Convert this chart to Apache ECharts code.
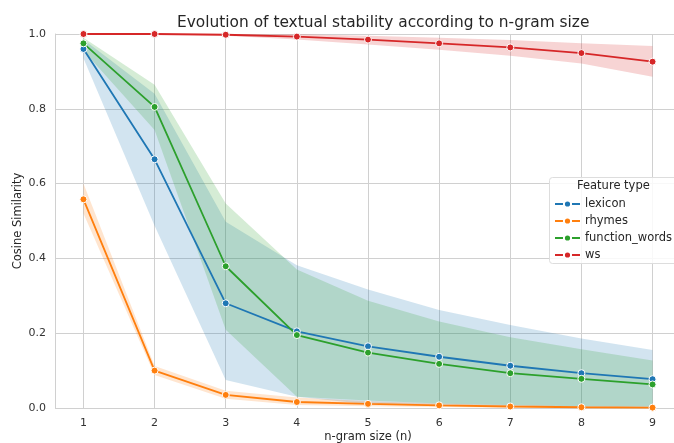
<!DOCTYPE html>
<html>
<head>
<meta charset="utf-8">
<script src="https://cdn.jsdelivr.net/npm/echarts@6/dist/echarts.min.js"></script>
<style>
  html, body { margin: 0; padding: 0; background: #fff; }
  #chart { width: 674px; height: 443px; }
</style>
</head>
<body>
<div id="chart"></div>
<script>
const ns = [1, 2, 3, 4, 5, 6, 7, 8, 9];
const featureNames = ['lexicon', 'rhymes', 'function_words', 'ws'];
const colors = ['#1f77b4', '#ff7f0e', '#2ca02c', '#d62728'];

// mean cosine similarity per n-gram size
const lexicon = [0.96, 0.665, 0.28, 0.205, 0.165, 0.137, 0.113, 0.093, 0.077];
const rhymes = [0.558, 0.10, 0.035, 0.016, 0.011, 0.007, 0.004, 0.002, 0.001];
const functionWords = [0.975, 0.805, 0.379, 0.195, 0.148, 0.118, 0.093, 0.078, 0.063];
const ws = [1.0, 1.0, 0.998, 0.993, 0.985, 0.975, 0.964, 0.949, 0.926];

// confidence interval bounds
const lexiconLow = [0.935, 0.487, 0.075, 0.03, 0.01, 0.006, 0.004, 0.003, 0.002];
const lexiconHigh = [0.985, 0.84, 0.498, 0.382, 0.317, 0.262, 0.222, 0.186, 0.155];
const rhymesLow = [0.52, 0.088, 0.025, 0.008, 0.005, 0.003, 0.001, 0.0, 0.0];
const rhymesHigh = [0.60, 0.112, 0.046, 0.028, 0.018, 0.012, 0.008, 0.005, 0.003];
const functionWordsLow = [0.955, 0.743, 0.209, 0.03, 0.02, 0.012, 0.008, 0.005, 0.004];
const functionWordsHigh = [0.99, 0.864, 0.547, 0.37, 0.287, 0.231, 0.189, 0.157, 0.127];
const wsLow = [1.0, 0.999, 0.995, 0.985, 0.972, 0.958, 0.942, 0.921, 0.886];
const wsHigh = [1.0, 1.0, 1.0, 0.999, 0.995, 0.99, 0.984, 0.975, 0.968];

const means = [lexicon, rhymes, functionWords, ws];
const lows = [lexiconLow, rhymesLow, functionWordsLow, wsLow];
const highs = [lexiconHigh, rhymesHigh, functionWordsHigh, wsHigh];

const font = 'DejaVu Sans';
const series = [];

// confidence band: one polygon per feature, drawn through the axes
function bandRenderer(color) {
  return function (params, api) {
    if (params.dataIndexInside !== 0) return null;
    const count = params.dataInsideLength;
    const top = [];
    const bottom = [];
    for (let k = 0; k < count; k++) {
      const x = api.value(0, k);
      top.push(api.coord([x, api.value(2, k)]));
      bottom.unshift(api.coord([x, api.value(1, k)]));
    }
    return {
      type: 'polygon',
      shape: { points: top.concat(bottom) },
      style: { fill: color, opacity: 0.2 },
    };
  };
}

featureNames.forEach((name, i) => {
  series.push({
    type: 'custom',
    name: name + '_band',
    data: ns.map((n, k) => [n, lows[i][k], highs[i][k]]),
    encode: { x: 0, y: [1, 2] },
    renderItem: bandRenderer(colors[i]),
    silent: true,
    clip: true,
    z: 1,
  });
});

featureNames.forEach((name, i) => {
  series.push({
    type: 'line',
    name,
    data: ns.map((n, k) => [n, means[i][k]]),
    symbol: 'circle',
    symbolSize: 7,
    itemStyle: { color: colors[i], borderColor: '#fff', borderWidth: 1 },
    lineStyle: { color: colors[i], width: 1.8 },
    z: 3,
  });
});

const chart = echarts.init(document.getElementById('chart'));
chart.setOption({
  animation: false,
  backgroundColor: '#fff',
  title: {
    text: 'Evolution of textual stability according to n-gram size',
    left: 172,
    top: 10,
    textStyle: { fontFamily: font, fontSize: 15.4, fontWeight: 'normal', color: '#262626' },
  },
  grid: {
    left: 55, width: 626, top: 34, height: 374,
    containLabel: false, outerBoundsMode: 'none',
  },
  xAxis: {
    type: 'value',
    min: 0.6,
    max: 9.4,
    name: 'n-gram size (n)',
    nameLocation: 'middle',
    nameGap: 23,
    nameMoveOverlap: false,
    nameTextStyle: { fontFamily: font, fontSize: 11.5, color: '#262626' },
    axisLine: { show: false },
    axisTick: { show: false, customValues: ns },
    axisLabel: { customValues: ns, fontFamily: font, fontSize: 11, color: '#333', margin: 10 },
    splitLine: { show: true, lineStyle: { color: '#d0d0d0', width: 1 } },
  },
  yAxis: {
    type: 'value',
    min: 0,
    max: 1,
    interval: 0.2,
    name: 'Cosine Similarity',
    nameLocation: 'middle',
    nameGap: 31,
    nameMoveOverlap: false,
    nameTextStyle: { fontFamily: font, fontSize: 11.5, color: '#262626' },
    axisLine: { show: true, lineStyle: { color: '#d0d0d0' } },
    axisTick: { show: false },
    axisLabel: {
      fontFamily: font, fontSize: 11, color: '#333', margin: 9,
      formatter: v => v.toFixed(1),
    },
    splitLine: { show: true, lineStyle: { color: '#d0d0d0', width: 1 } },
  },
  legend: {
    data: featureNames,
    orient: 'vertical',
    left: 554,
    top: 198,
    padding: 0,
    itemWidth: 25,
    itemHeight: 9,
    itemGap: 5,
    z: 20,
    textStyle: { fontFamily: font, fontSize: 11.5, color: '#262626' },
  },
  graphic: [
    {
      type: 'rect',
      left: 549,
      top: 177,
      shape: { width: 140, height: 86, r: 3 },
      style: { fill: 'rgba(255,255,255,0.85)', stroke: '#dddddd', lineWidth: 1 },
      z: 10,
    },
    {
      type: 'text',
      left: 577,
      top: 180,
      style: { text: 'Feature type', font: '11.5px "DejaVu Sans"', fill: '#262626' },
      z: 11,
    },
  ],
  series,
});
</script>
</body>
</html>
